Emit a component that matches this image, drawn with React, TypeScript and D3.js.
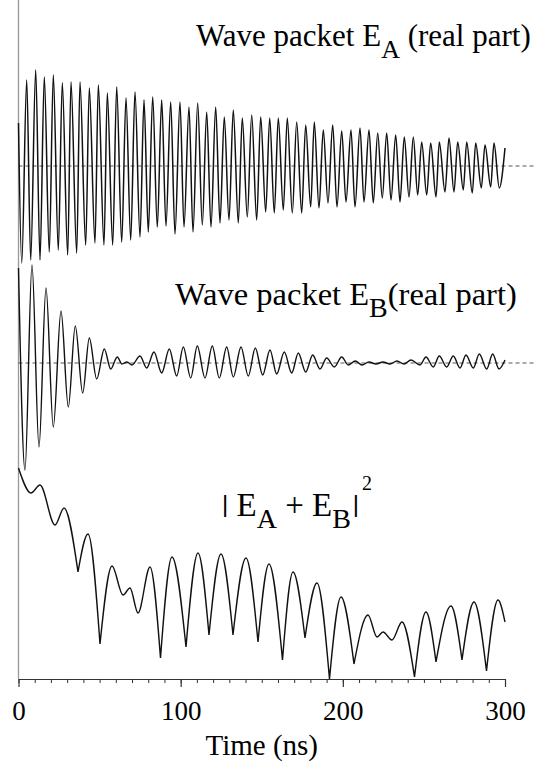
import { useEffect, useRef } from "react";
import * as d3 from "d3";

const W = 536;
const H = 764;
const FONT = '"Liberation Serif", "Times New Roman", Times, serif';
const SANS = '"Liberation Sans", Arial, sans-serif';

// time axis (ns)
const TIME_TICKS = [0, 100, 200, 300];
const MINOR_TICKS = d3.range(0, 301, 10);

// Wave packet E_A (real part): successive extrema [t ns, amplitude a.u.]
const waveA: [number, number][] = [
  [0, 0.43], [2.0, -0.97], [5.06, 0.86], [7.52, -0.94], [10.61, 0.96], [13.26, -0.94],
  [15.91, 0.89], [18.99, -0.86], [21.46, 0.91], [24.54, -0.84], [27.01, 0.83], [30.34, -0.89],
  [32.37, 0.84], [35.89, -0.87], [37.92, 0.84], [41.44, -0.79], [43.66, 0.78], [47.17, -0.77],
  [49.21, 0.81], [52.72, -0.79], [54.76, 0.73], [58.09, -0.79], [60.55, 0.79], [63.64, -0.76],
  [66.29, 0.68], [69.19, -0.74], [71.84, 0.74], [74.92, -0.71], [77.39, 0.66], [80.04, -0.66],
  [82.75, 0.69], [85.59, -0.61], [88.3, 0.66], [90.95, -0.6], [93.85, 0.64], [96.5, -0.68],
  [99.59, 0.64], [102.05, -0.61], [105.14, 0.59], [107.6, -0.66], [110.5, 0.63], [113.34, -0.59],
  [116.05, 0.54], [118.7, -0.61], [121.6, 0.59], [124.25, -0.57], [126.9, 0.49], [129.8, -0.54],
  [132.45, 0.56], [135.54, -0.57], [138.0, 0.48], [141.09, -0.51], [143.8, 0.51], [146.88, -0.54],
  [149.35, 0.49], [152.43, -0.46], [154.9, 0.48], [157.74, -0.47], [160.2, 0.48], [163.29, -0.44],
  [165.75, 0.48], [168.84, -0.47], [171.55, 0.44], [174.63, -0.47], [177.1, 0.41], [180.18, -0.41],
  [182.4, 0.44], [185.3, -0.42], [187.95, 0.36], [190.85, -0.37], [193.75, 0.41], [196.4, -0.41],
  [199.3, 0.35], [201.95, -0.36], [205.03, 0.36], [207.5, -0.41], [210.58, 0.38], [213.05, -0.36],
  [216.13, 0.36], [218.78, -0.37], [221.5, 0.33], [224.33, -0.32], [227.05, 0.33], [229.7, -0.34],
  [232.6, 0.31], [235.25, -0.36], [237.9, 0.29], [240.8, -0.31], [243.45, 0.29], [246.16, -0.29],
  [248.63, 0.24], [251.71, -0.29], [254.18, 0.23], [257.45, -0.31], [259.48, 0.24], [263.0, -0.26],
  [265.46, 0.28], [268.55, -0.26], [270.83, 0.24], [274.28, -0.24], [276.38, 0.24], [279.83, -0.27],
  [281.93, 0.23], [285.39, -0.22], [287.67, 0.21], [291.18, -0.21], [293.21, 0.23], [296.48, -0.22],
  [300, 0.18],
];

// Wave packet E_B (real part): successive extrema [t ns, amplitude a.u.]
const waveB: [number, number][] = [
  [0, 0.95], [4.0, -1.07], [8.32, 0.98], [12.64, -0.84], [16.96, 0.75], [21.46, -0.64],
  [26.21, 0.52], [30.71, -0.44], [35.02, 0.37], [39.58, -0.3], [43.66, 0.25], [48.22, -0.16],
  [52.91, 0.14], [56.85, -0.06], [60.92, 0.06], [63.82, -0.01], [66.9, 0.01], [69.99, -0.02],
  [74.92, 0.07], [79.05, -0.05], [83.55, 0.11], [88.3, -0.1], [92.99, 0.14], [97.55, -0.13],
  [101.62, 0.16], [106.19, -0.15], [110.25, 0.17], [115.0, -0.15], [119.5, 0.17], [123.82, -0.15],
  [128.38, 0.16], [132.45, -0.14], [137.2, 0.16], [141.7, -0.13], [146.02, 0.15], [150.58, -0.12],
  [155.08, 0.13], [159.22, -0.11], [163.9, 0.11], [168.47, -0.1], [172.54, 0.1], [177.1, -0.09],
  [181.42, 0.08], [185.92, -0.06], [190.05, 0.05], [194.74, -0.04], [199.3, 0.06], [203.37, -0.02],
  [207.69, 0.02], [211.82, -0.02], [216.13, 0.01], [220.45, -0.01], [224.77, 0.01], [229.08, -0.01],
  [233.4, 0.02], [237.72, -0.01], [242.04, 0.03], [247.59, -0.02], [251.28, 0.06], [255.78, -0.04],
  [259.48, 0.07], [264.04, -0.04], [268.11, 0.07], [272.25, -0.05], [275.95, 0.08], [280.45, -0.05],
  [284.15, 0.09], [288.71, -0.06], [292.41, 0.09], [296.3, -0.06], [300, 0.03],
];

// |E_A + E_B|^2: successive extrema [t ns, intensity a.u.]
const intensity: [number, number][] = [
  [0, 2.11], [7.71, 1.86], [13.26, 1.94], [22.51, 1.54], [28.06, 1.71], [36.69, 1.07],
  [42.86, 1.45], [50.26, 0.35], [57.66, 1.13], [64.44, 0.84], [68.76, 0.91], [73.69, 0.66],
  [81.09, 1.12], [87.56, 0.21], [94.65, 1.22], [103.29, 0.32], [110.69, 1.26], [117.47, 0.44],
  [124.87, 1.25], [132.27, 0.44], [140.28, 1.21], [147.68, 0.37], [154.46, 1.15], [162.79, 0.19],
  [169.27, 1.07], [176.67, 0.41], [184.07, 0.96], [191.77, 0.0], [198.87, 0.82], [206.88, 0.15],
  [215.52, 0.64], [221.07, 0.42], [224.77, 0.47], [230.32, 0.39], [236.48, 0.57], [244.19, 0.02],
  [251.28, 0.67], [257.45, 0.17], [266.7, 0.73], [273.48, 0.19], [280.88, 0.77], [288.59, 0.08],
  [295.68, 0.79], [300, 0.57],
];

export default function App() {
  const ref = useRef<SVGSVGElement>(null);

  useEffect(() => {
    if (!ref.current) return;
    const svg = d3.select(ref.current);
    svg.selectAll("*").remove();

    const x = d3.scaleLinear().domain([0, 300]).range([18.5, 505]);
    const yA = d3.scaleLinear().domain([-1, 1]).range([266, 66]);
    const yB = d3.scaleLinear().domain([-1, 1]).range([463, 263]);
    const yI = d3.scaleLinear().domain([0, 1]).range([679, 579]);
    const axisY = yI(0);

    svg.append("rect").attr("width", W).attr("height", H).attr("fill", "#fff");

    // left frame line
    svg.append("line")
      .attr("x1", x(0)).attr("x2", x(0))
      .attr("y1", 0).attr("y2", axisY)
      .attr("stroke", "#999").attr("stroke-width", 1.3);

    // zero lines of the two real parts
    [yA(0), yB(0)].forEach((yy) => {
      svg.append("line")
        .attr("x1", x(0)).attr("x2", W)
        .attr("y1", yy).attr("y2", yy)
        .attr("stroke", "#555").attr("stroke-width", 1)
        .attr("stroke-dasharray", "4 3");
    });

    // real parts: smooth through the extrema
    const lineA = d3.line<[number, number]>()
      .x((d) => x(d[0])).y((d) => yA(d[1])).curve(d3.curveMonotoneX);
    const lineB = d3.line<[number, number]>()
      .x((d) => x(d[0])).y((d) => yB(d[1])).curve(d3.curveMonotoneX);

    svg.append("path").datum(waveA)
      .attr("d", lineA).attr("fill", "none")
      .attr("stroke", "#111").attr("stroke-width", 1.5);
    svg.append("path").datum(waveB)
      .attr("d", lineB).attr("fill", "none")
      .attr("stroke", "#111").attr("stroke-width", 1.4);

    // intensity: humps joined at sharp minima
    const lineI = d3.line<[number, number]>()
      .x((d) => x(d[0])).y((d) => yI(d[1])).curve(d3.curveMonotoneX);
    const segs: [number, number][][] = [];
    let cur: [number, number][] = [intensity[0]];
    for (let i = 1; i < intensity.length; i++) {
      cur.push(intensity[i]);
      const prev = intensity[i - 1];
      const next = intensity[i + 1];
      if (next && prev[1] > intensity[i][1] && next[1] > intensity[i][1]) {
        const drop = Math.min(prev[1], next[1]) - intensity[i][1];
        if (drop > 0.3) {
          segs.push(cur);
          cur = [intensity[i]];
        }
      }
    }
    segs.push(cur);
    svg.append("path")
      .attr("d", segs.map((s) => lineI(s)).join(""))
      .attr("fill", "none")
      .attr("stroke", "#111").attr("stroke-width", 1.4);

    // time axis
    svg.append("g")
      .attr("transform", `translate(0,${axisY})`)
      .call(d3.axisBottom(x).tickValues(MINOR_TICKS).tickSize(4).tickSizeOuter(0).tickFormat(() => ""))
      .call((a) => {
        a.select(".domain").attr("stroke", "#333").attr("stroke-width", 1.2);
        a.selectAll("line").attr("stroke", "#333");
      });
    svg.append("g")
      .attr("transform", `translate(0,${axisY})`)
      .call(d3.axisBottom(x).tickValues(TIME_TICKS).tickSize(8).tickSizeOuter(0).tickFormat(d3.format("d")))
      .call((a) => {
        a.select(".domain").remove();
        a.selectAll("line").attr("stroke", "#333").attr("stroke-width", 1.2);
        a.selectAll("text")
          .attr("y", 41).attr("dy", 0)
          .attr("font-family", FONT).attr("font-size", 27).attr("fill", "#000");
      });
    svg.append("text")
      .attr("x", x(150)).attr("y", 755)
      .attr("text-anchor", "middle")
      .attr("font-family", FONT).attr("font-size", 29)
      .text("Time (ns)");

    // labels
    const label = (lx: number, ly: number, size: number) =>
      svg.append("text")
        .attr("x", lx).attr("y", ly)
        .attr("font-family", FONT).attr("font-size", size)
        .style("white-space", "pre");

    const tA = label(196, 46, 31);
    tA.append("tspan").text("Wave packet E");
    tA.append("tspan").attr("dy", 12).attr("font-size", 26).text("A");
    tA.append("tspan").attr("dy", -12).text(" (real part)");

    const tB = label(175, 305, 32.5);
    tB.append("tspan").text("Wave packet E");
    tB.append("tspan").attr("dy", 12).attr("font-size", 28).text("B");
    tB.append("tspan").attr("dy", -12).text("(real part)");

    const tC = label(222, 516, 33);
    tC.append("tspan").attr("font-family", SANS).attr("font-size", 24).attr("dy", -4).text("|");
    tC.append("tspan").attr("dy", 4).text(" E");
    tC.append("tspan").attr("dy", 12).attr("font-size", 28).text("A");
    tC.append("tspan").attr("dy", -12).text(" + E");
    tC.append("tspan").attr("dy", 12).attr("font-size", 28).text("B");
    tC.append("tspan").attr("font-family", SANS).attr("font-size", 24).attr("dy", -16).attr("dx", 2).text("|");
    tC.append("tspan").attr("dy", -22).attr("dx", 3).attr("font-size", 20).text("2");
  }, []);

  return (
    <svg
      ref={ref}
      width={W}
      height={H}
      style={{ position: "absolute", left: 0, top: 0, display: "block" }}
    />
  );
}
